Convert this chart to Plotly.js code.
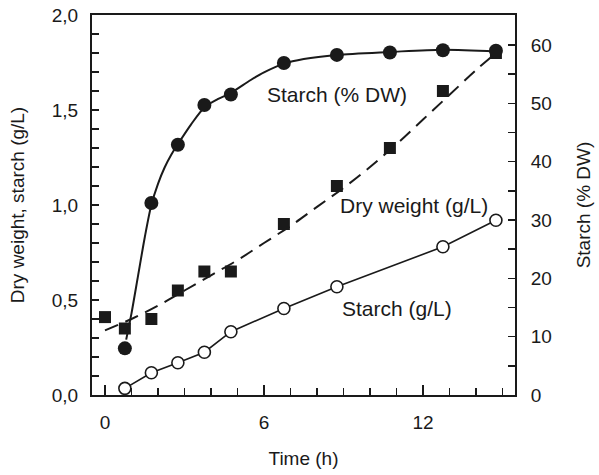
<!DOCTYPE html>
<html>
<head>
<meta charset="utf-8">
<script src="https://cdn.plot.ly/plotly-3.0.1.min.js"></script>
<style>html,body{margin:0;padding:0;background:#fff}#chart{width:599px;height:475px}</style>
</head>
<body>
<div id="chart"></div>
<script>
// Measured data
var timeDW = [0, 0.75, 1.75, 2.75, 3.75, 4.75, 6.75, 8.75, 10.75, 12.75, 14.75];
var dryWeight = [0.41, 0.35, 0.40, 0.55, 0.65, 0.65, 0.90, 1.10, 1.30, 1.60, 1.80];

var timeStarchPct = [0.75, 1.75, 2.75, 3.75, 4.75, 6.75, 8.75, 10.75, 12.75, 14.75];
var starchPct = [8.0, 32.9, 42.9, 49.7, 51.5, 56.9, 58.3, 58.7, 59.1, 59.0];

var timeStarchGL = [0.75, 1.75, 2.75, 3.75, 4.75, 6.75, 8.75, 12.75, 14.75];
var starchGL = [0.035, 0.117, 0.17, 0.225, 0.333, 0.455, 0.57, 0.78, 0.92];

// Fitted curves
var fitDWTime = [0, 1, 2, 3, 4, 5, 6, 7, 8, 9, 10, 11, 12, 13, 14, 14.75];
var fitDW = [0.34, 0.40, 0.47, 0.55, 0.63, 0.71, 0.80, 0.89, 0.99, 1.09, 1.20, 1.32, 1.45, 1.58, 1.71, 1.80];

var fitPctTime = [0.8, 1.0, 1.25, 1.5, 1.75, 2.0, 2.25, 2.5, 2.75, 3.25, 3.75, 4.25, 4.75, 5.5, 6.0, 6.75, 7.5, 8.75, 10.75, 12.75, 14.75];
var fitPct = [9.5, 14, 20.5, 27, 32.6, 36.2, 39.0, 41.2, 43.0, 46.4, 49.3, 50.7, 51.8, 54.0, 55.3, 56.8, 57.6, 58.3, 58.8, 59.2, 58.9];

var fitGLTime = timeStarchGL;
var fitGL = starchGL;

var labelText = ["Starch (% DW)", "Dry weight (g/L)", "Starch (g/L)"];
var labelX = [8.74, 11.65, 11.03];
var labelY = [1.584, 1.0, 0.456];

var ink = '#1a1a1a';
var fnt = 'Liberation Sans, Arial, sans-serif';

var traces = [
  {x: fitDWTime, y: fitDW, mode: 'lines', line: {color: ink, width: 2, dash: '14px,8px', shape: 'spline'}, hoverinfo: 'skip'},
  {x: fitGLTime, y: fitGL, mode: 'lines', line: {color: ink, width: 1.6}, hoverinfo: 'skip'},
  {x: fitPctTime, y: fitPct, yaxis: 'y2', mode: 'lines', line: {color: ink, width: 2, shape: 'spline', smoothing: 0.8}, hoverinfo: 'skip'},
  {x: timeDW, y: dryWeight, mode: 'markers', marker: {symbol: 'square', size: 12, color: ink}},
  {x: timeStarchGL, y: starchGL, mode: 'markers', marker: {symbol: 'circle', size: 12, color: '#fff', line: {color: ink, width: 1.6}}},
  {x: timeStarchPct, y: starchPct, yaxis: 'y2', mode: 'markers', marker: {symbol: 'circle', size: 14, color: ink}}
];

var annotations = labelText.map(function (t, i) {
  return {x: labelX[i], y: labelY[i], xref: 'x', yref: 'y', text: t, showarrow: false,
          xanchor: 'center', yanchor: 'middle', font: {family: fnt, size: 21, color: ink}};
});

var layout = {
  width: 599, height: 475,
  margin: {l: 92, r: 84, t: 15, b: 80},
  paper_bgcolor: '#fff', plot_bgcolor: '#fff',
  showlegend: false,
  separators: ', ',
  font: {family: fnt, size: 19, color: ink},
  xaxis: {
    range: [-0.49, 15.47], tickvals: [0, 6, 12], ticktext: ['0', '6', '12'],
    ticks: 'inside', ticklen: 10, tickwidth: 1.5, tickcolor: ink,
    minor: {dtick: 1, tick0: 0, ticks: 'inside', ticklen: 7, tickwidth: 1.5, tickcolor: ink},
    showline: true, linewidth: 2, linecolor: ink, mirror: true,
    showgrid: false, zeroline: false, ticklabelstandoff: 9,
    tickfont: {family: fnt, size: 19, color: ink},
    title: {text: 'Time (h)', font: {family: fnt, size: 19, color: ink}, standoff: 20}
  },
  yaxis: {
    range: [0, 2], dtick: 0.5, tick0: 0, tickformat: '.1f',
    ticks: 'inside', ticklen: 7, tickwidth: 1.5, tickcolor: ink,
    minor: {dtick: 0.1, ticks: 'inside', ticklen: 7, tickwidth: 1.5, tickcolor: ink},
    showline: true, linewidth: 2, linecolor: ink,
    showgrid: false, zeroline: false, ticklabelstandoff: 8,
    tickfont: {family: fnt, size: 19, color: ink},
    title: {text: 'Dry weight, starch (g/L)', font: {family: fnt, size: 19, color: ink}, standoff: 22}
  },
  yaxis2: {
    overlaying: 'y', side: 'right', range: [0, 65.14], dtick: 10, tick0: 0,
    ticks: 'inside', ticklen: 7, tickwidth: 1.5, tickcolor: ink,
    minor: {dtick: 5, ticks: 'inside', ticklen: 7, tickwidth: 1.5, tickcolor: ink},
    showline: true, linewidth: 2, linecolor: ink,
    showgrid: false, zeroline: false, ticklabelstandoff: 10,
    tickfont: {family: fnt, size: 19, color: ink},
    title: {text: 'Starch (% DW)', font: {family: fnt, size: 19, color: ink}, standoff: 26}
  },
  annotations: annotations
};

Plotly.newPlot('chart', traces, layout, {displayModeBar: false, staticPlot: true});
</script>
</body>
</html>
